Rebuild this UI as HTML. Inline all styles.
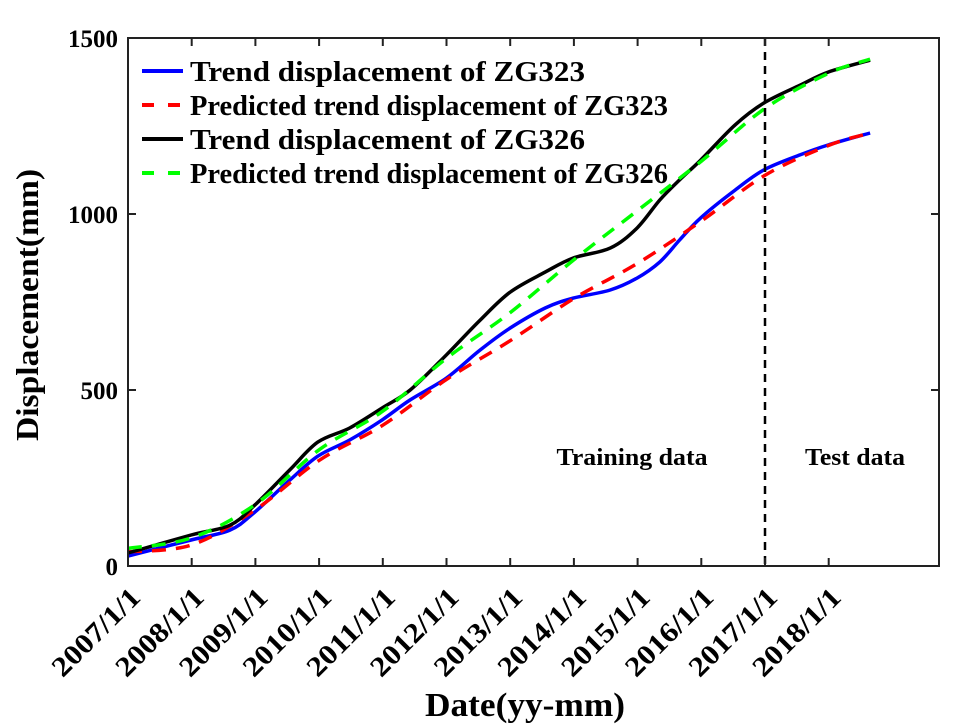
<!DOCTYPE html>
<html><head><meta charset="utf-8">
<style>
body{margin:0;background:#fff;}
svg{display:block;font-family:"Liberation Serif",serif;font-weight:bold;}
</style></head>
<body>
<svg id="c" width="956" height="726" viewBox="0 0 956 726"></svg>
<script>
const years = ["2007/1/1","2008/1/1","2009/1/1","2010/1/1","2011/1/1","2012/1/1","2013/1/1","2014/1/1","2015/1/1","2016/1/1","2017/1/1","2018/1/1"];
const yTicks = [0,500,1000,1500];
const tA = [0,0.99,1.6,1.99,2.54,2.98,3.48,3.99,4.43,5.0,5.53,6.0,6.55,6.99,7.57,7.99,8.35,8.66,8.99,9.53,9.98,10.55,10.99,11.65];
const zg323 = [28,74,102,153,244,312,358,415,472,534,614,676,733,761,784,818,864,926,989,1068,1125,1168,1196,1230];
const zg326 = [37,88,116,173,273,352,392,449,500,600,699,778,835,875,903,960,1040,1097,1153,1253,1315,1366,1403,1437];
const tP = [0,1,2,3,4,5,6,7,8,9,10,11,11.65];
const pred323 = [40,60,160,300,400,530,640,760,860,980,1110,1195,1230];
const pred326 = [50,80,175,330,440,590,720,870,1010,1150,1300,1400,1440];

const L=128,R=939,T=38,B=566;
const X=t=>L+t*63.7;
const Y=v=>B-v*(B-T)/1500;
const svg=document.getElementById('c');
const NS='http://www.w3.org/2000/svg';
function el(tag,attrs,parent){const e=document.createElementNS(NS,tag);for(const k in attrs)e.setAttribute(k,attrs[k]);(parent||svg).appendChild(e);return e;}

function smoothPath(ts,vs){
  const p=ts.map((t,i)=>[X(t),Y(vs[i])]);
  let d='M'+p[0][0].toFixed(1)+','+p[0][1].toFixed(1);
  for(let i=0;i<p.length-1;i++){
    const p0=p[Math.max(0,i-1)],p1=p[i],p2=p[i+1],p3=p[Math.min(p.length-1,i+2)];
    const c1=[p1[0]+(p2[0]-p0[0])/6,p1[1]+(p2[1]-p0[1])/6];
    const c2=[p2[0]-(p3[0]-p1[0])/6,p2[1]-(p3[1]-p1[1])/6];
    d+='C'+c1.map(v=>v.toFixed(1)).join(',')+' '+c2.map(v=>v.toFixed(1)).join(',')+' '+p2[0].toFixed(1)+','+p2[1].toFixed(1);
  }
  return d;
}
function line(ts,vs,color,dash,name){
  const p=el('path',{d:smoothPath(ts,vs),fill:'none',stroke:color,'stroke-width':3.5,'stroke-linejoin':'round'});
  if(dash)p.setAttribute('stroke-dasharray',dash);
  
  
}
line(tA,zg323,'#0000ff',null,'zg323-trend-line');
line(tP,pred323,'#ff0000','14,10','zg323-predicted-line');
line(tA,zg326,'#000000',null,'zg326-trend-line');
line(tP,pred326,'#00ff00','14,10','zg326-predicted-line');

const sl=el('line',{x1:X(10),x2:X(10),y1:T,y2:B,stroke:'#000','stroke-width':2.5,'stroke-dasharray':'8,6'});



const fr=el('rect',{x:L,y:T,width:R-L,height:B-T,fill:'none',stroke:'#222','stroke-width':2});



years.forEach((lab,i)=>{
  const x=X(i);
  el('line',{x1:x,x2:x,y1:B,y2:B-8,stroke:'#222','stroke-width':2});
  el('line',{x1:x,x2:x,y1:T,y2:T+8,stroke:'#222','stroke-width':2});
  const ax=x+14, ay=B+33;
  const t=el('text',{x:ax,y:ay,'font-size':28,'text-anchor':'end',transform:`rotate(-45 ${ax} ${ay})`,textLength:112,lengthAdjust:'spacingAndGlyphs'});
  t.textContent=lab;
  
  
});
yTicks.forEach(v=>{
  const y=Y(v);
  el('line',{x1:L,x2:L+8,y1:y,y2:y,stroke:'#222','stroke-width':2});
  el('line',{x1:R,x2:R-8,y1:y,y2:y,stroke:'#222','stroke-width':2});
  const t=el('text',{x:L-10,y:y+9,'font-size':25,'text-anchor':'end'});
  t.textContent=v;
  
  
});

const yl=el('text',{x:38,y:305,'font-size':32,'text-anchor':'middle',transform:'rotate(-90 38 305)',textLength:272,lengthAdjust:'spacingAndGlyphs'});
yl.textContent='Displacement(mm)';


const xl=el('text',{x:525,y:716,'font-size':34,'text-anchor':'middle',textLength:200,lengthAdjust:'spacingAndGlyphs'});
xl.textContent='Date(yy-mm)';



const tr=el('text',{x:632,y:465,'font-size':24,'text-anchor':'middle',textLength:151,lengthAdjust:'spacingAndGlyphs'});
tr.textContent='Training data';


const te=el('text',{x:855,y:465,'font-size':24,'text-anchor':'middle',textLength:100,lengthAdjust:'spacingAndGlyphs'});
te.textContent='Test data';



const legItems=[['Trend displacement of ZG323','#0000ff',null,395],['Predicted trend displacement of ZG323','#ff0000','12,14',478],['Trend displacement of ZG326','#000',null,395],['Predicted trend displacement of ZG326','#00ff00','12,14',478]];
legItems.forEach((it,i)=>{
  const y=71+i*34.0;
  const g=el('g',{});
  
  
  const ln=el('line',{x1:142,x2:183,y1:y,y2:y,stroke:it[1],'stroke-width':4},g);
  if(it[2])ln.setAttribute('stroke-dasharray',it[2]);
  const t=el('text',{x:190,y:y+10,'font-size':28,textLength:it[3],lengthAdjust:'spacingAndGlyphs'},g);
  t.textContent=it[0];
});
</script>
</body></html>
